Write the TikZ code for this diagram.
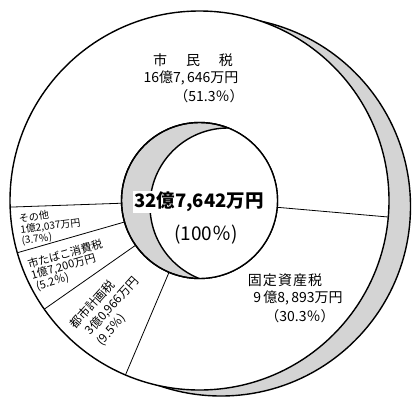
\documentclass[tikz,border=0pt]{standalone}
\usepackage{fontspec}
\setmainfont{Noto Sans CJK JP}
\begin{document}
\tikzset{
  ring/.style={line width=1.4pt},
  shadefill/.style={fill=black!17},
  radial/.style={line width=0.8pt},
  lbl/.style={inner sep=0pt, outer sep=0pt},
  fs/.style={font=\fontsize{#1}{#1}\selectfont},
  fsb/.style={font=\bfseries\fontsize{#1}{#1}\selectfont},
  grp/.style 2 args={inner sep=0pt, outer sep=0pt, align=left, anchor=north west,
    font=\fontsize{#1}{#2}\selectfont},
}
\begin{tikzpicture}[x=1pt,y=-1pt]
\useasboundingbox (0,0) rectangle (417,399);
\coordinate (C) at (199.5,200.5);
\coordinate (S) at (221,206.5);
\coordinate (H) at (228,206);
% shadow of the outer disk
\fill[shadefill] (S) circle (189.5);
\draw[ring] (S) circle (189.5);
% main disk
\node[circle, fill=white, draw, ring, minimum size=379pt, inner sep=0pt, outer sep=0pt] (rim) at (C) {};
% hole
\node[circle, shadefill, draw, ring, minimum size=156pt, inner sep=0pt, outer sep=0pt] (hole) at (C) {};
\begin{scope}
  \clip (C) circle (78);
  \fill[white] (H) circle (78);
  \draw[ring] (H) circle (78);
\end{scope}
\draw[ring] (C) circle (78);
% sector lines
\draw[radial] (hole.-5) -- (rim.-5);
\draw[radial] (hole.182) -- (rim.182);
\draw[radial] (hole.196.5) -- (rim.196.5);
\draw[radial] (hole.215) -- (rim.215);
\draw[radial] (hole.247.5) -- (rim.247.5);
% centre text
\node[fill=white, inner sep=1pt, fsb=18.5] (total) at (199,202) {32億7,642万円};
\node[lbl, fs=19] (pct) at (206,235) {(100％)};
% 市民税
\node[lbl, fs=14] (a1) at (193,60) {市\hspace{1.35em}民\hspace{1.35em}税};
\node[lbl, fs=14] (a2) at (191,78) {16億7,\,646万円};
\node[lbl, fs=14] (a3) at (209,96) {（51.3％）};
% 固定資産税
\node[lbl, fs=14] (b1) at (285,280) {固\hspace{0.08em}定\hspace{0.08em}資\hspace{0.08em}産\hspace{0.08em}税};
\node[lbl, fs=14] (b2) at (298,298) {9\,億8,\,893万円};
\node[lbl, fs=14] (b3) at (300,316) {（30.3％）};
% その他
\node[grp={10}{11}, rotate=7] (c) at (18.4,214) {その他\\1億2,037万円\\(3.7％)};
% 市たばこ消費税
\node[grp={11}{11.5}, rotate=16] (d) at (26.6,259.5) {市たばこ消費税\\1億7,200万円\\\,(5.2％)};
% 都市計画税
\node[grp={12}{15.5}, rotate=48] (e) at (67.5,323) {都市計画税\\\hspace{0.5em}3億0,966万円\\\hspace{0.5em}(9.5％)};
\end{tikzpicture}
\end{document}
